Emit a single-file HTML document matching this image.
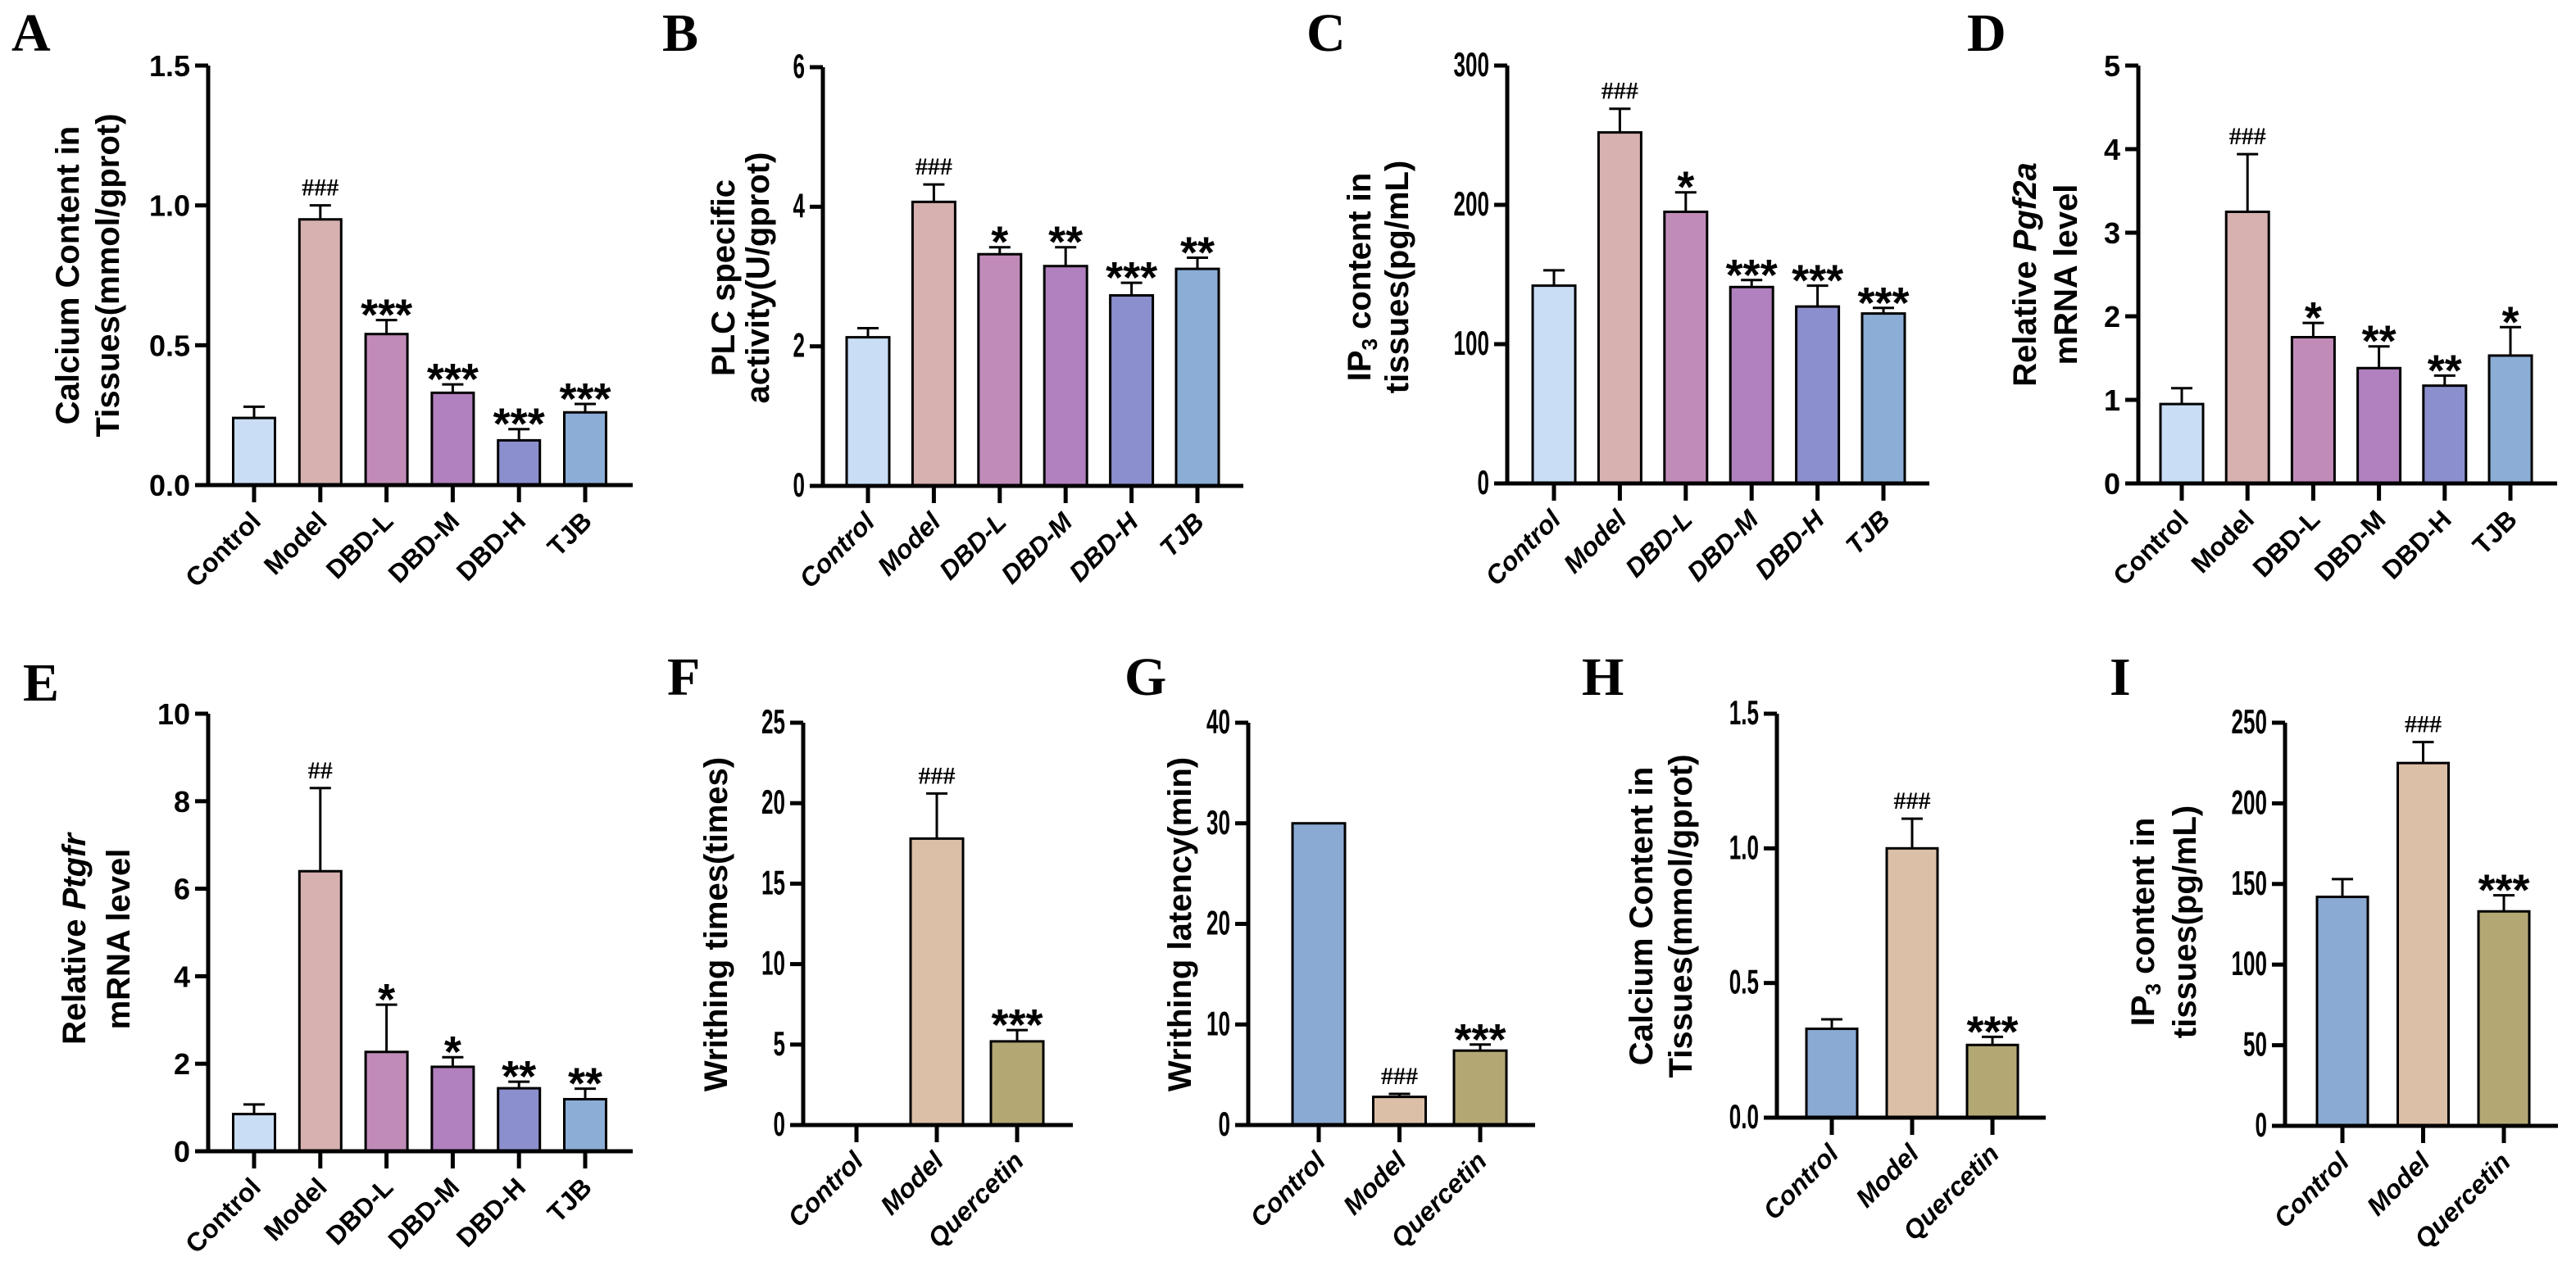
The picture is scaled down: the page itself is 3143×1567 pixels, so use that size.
<!DOCTYPE html>
<html><head><meta charset="utf-8"><style>
html,body{margin:0;padding:0;background:#fff;}
svg{display:block;font-family:"Liberation Sans",Arial,sans-serif;}
</style></head><body>
<svg id="fig" width="3143" height="1567" viewBox="0 0 3143 1567" xmlns="http://www.w3.org/2000/svg"></svg>
<script>
// ---- data ----
const catsSix = ["Control","Model","DBD-L","DBD-M","DBD-H","TJB"];
const catsThree = ["Control","Model","Quercetin"];
const colorsSix = ["#c9ddf5","#d6b1b0","#c18bb8","#b180be","#8b8fcd","#8badd6"];
const colorsThree = ["#8aaad3","#dbbfa7","#b3a874"];

const aValues = [0.24,0.95,0.54,0.33,0.16,0.26];
const aErrors = [0.04,0.05,0.05,0.03,0.04,0.03];
const aSig = ["","###","***","***","***","***"];
const aTicks = [0,0.5,1.0,1.5];
const aTickLabels = ["0.0","0.5","1.0","1.5"];

const bValues = [2.13,4.07,3.32,3.15,2.73,3.11];
const bErrors = [0.13,0.25,0.1,0.27,0.18,0.16];
const bSig = ["","###","*","**","***","**"];
const bTicks = [0,2,4,6];
const bTickLabels = ["0","2","4","6"];

const cValues = [142,252,195,141,127,122];
const cErrors = [11,17,14,5,15,4];
const cSig = ["","###","*","***","***","***"];
const cTicks = [0,100,200,300];
const cTickLabels = ["0","100","200","300"];

const dValues = [0.95,3.25,1.75,1.38,1.17,1.53];
const dErrors = [0.19,0.69,0.17,0.26,0.12,0.34];
const dSig = ["","###","*","**","**","*"];
const dTicks = [0,1,2,3,4,5];
const dTickLabels = ["0","1","2","3","4","5"];

const eValues = [0.85,6.4,2.27,1.93,1.44,1.19];
const eErrors = [0.22,1.9,1.08,0.22,0.15,0.24];
const eSig = ["","##","*","*","**","**"];
const eTicks = [0,2,4,6,8,10];
const eTickLabels = ["0","2","4","6","8","10"];

const fValues = [0,17.8,5.2];
const fErrors = [0,2.8,0.7];
const fSig = ["","###","***"];
const fTicks = [0,5,10,15,20,25];
const fTickLabels = ["0","5","10","15","20","25"];

const gValues = [30,2.8,7.4];
const gErrors = [0,0.3,0.6];
const gSig = ["","###","***"];
const gTicks = [0,10,20,30,40];
const gTickLabels = ["0","10","20","30","40"];

const hValues = [0.33,1.0,0.27];
const hErrors = [0.035,0.11,0.03];
const hSig = ["","###","***"];
const hTicks = [0,0.5,1.0,1.5];
const hTickLabels = ["0.0","0.5","1.0","1.5"];

const iValues = [142,225,133];
const iErrors = [11,13,10];
const iSig = ["","###","***"];
const iTicks = [0,50,100,150,200,250];
const iTickLabels = ["0","50","100","150","200","250"];

const NS = "http://www.w3.org/2000/svg";
const svg = document.getElementById("fig");
function mk(tag, attrs, parent){
  const e = document.createElementNS(NS, tag);
  for (const k in attrs) e.setAttribute(k, attrs[k]);
  (parent||svg).appendChild(e);
  return e;
}

function drawPanel(p){
  const g = mk("g", {});
  
  
  const L = mk("text", {x:p.lx, y:p.ly, "font-family":"Liberation Serif, serif", "font-weight":"bold", "font-size":66}, g);
  L.textContent = p.id.toUpperCase();
  
  
  const ymax = p.ticks[p.ticks.length-1];
  const Y = v => p.y0 - (v/ymax)*(p.y0 - p.yTop);
  const X = i => p.c0 + i*p.step;
  p.values.forEach((v,i)=>{
    if (v > 0) {
      const r = mk("rect", {x:X(i)-p.bw/2, y:Y(v), width:p.bw, height:p.y0-Y(v), fill:p.colors[i], stroke:"#000", "stroke-width":3}, g);
      
      
    }
    const err = p.errors[i];
    if (err > 0) {
      const eb = mk("path", {d:`M${X(i)} ${Y(v)} V${Y(v+err)} M${X(i)-13} ${Y(v+err)} H${X(i)+13}`, stroke:"#000", "stroke-width":3, fill:"none"}, g);
      
      
    }
    if (p.sig[i]) {
      const isHash = p.sig[i][0] === "#";
      const s = mk("text", {x:X(i), y:Y(v+err) - (isHash ? 12 : -12), "text-anchor":"middle", "font-weight":"bold",
        "font-family": isHash ? "Liberation Serif, serif" : "Liberation Sans, sans-serif", "font-size": isHash ? 30 : 54}, g);
      s.textContent = p.sig[i];
      
      
    }
  });
  const ax = mk("path", {d:`M${p.ax} ${p.yTop} V${p.y0} H${p.xEnd}`, stroke:"#000", "stroke-width":5, fill:"none"}, g);
  
  
  p.ticks.forEach((t,k)=>{
    const tk = mk("line", {x1:p.ax-16, x2:p.ax, y1:Y(t), y2:Y(t), stroke:"#000", "stroke-width":5}, g);
    
    
    const sx = p.condensed ? 0.62 : 1;
    const tl = mk("text", {transform:`translate(${p.ax-22},${Y(t)+13}) scale(${sx},1)`, "text-anchor":"end", "font-weight":"bold", "font-size": p.condensed ? 42 : 36}, g);
    tl.textContent = p.tickLabels[k];
    
    
  });
  p.cats.forEach((c,i)=>{
    const tk = mk("line", {x1:X(i), x2:X(i), y1:p.y0, y2:p.y0+21, stroke:"#000", "stroke-width":5}, g);
    
    
    const cl = mk("text", {transform:`translate(${X(i)+10},${p.y0+46}) rotate(-45)`, "text-anchor":"end", "font-weight":"bold", "font-size":32, "font-style": p.italic ? "italic" : "normal"}, g);
    cl.textContent = c;
    
    
  });
  p.title.forEach((line, k)=>{
    const t = mk("text", {transform:`translate(${p.tx[k]},${p.ty}) rotate(-90)`, "text-anchor":"middle", "font-weight":"bold", "font-size":40}, g);
    t.innerHTML = line;
    
    
  });
}

const IP3 = 'IP<tspan font-size="26" dy="8">3</tspan><tspan dy="-8"> content in</tspan>';
drawPanel({id:"a", lx:14, ly:62, ax:254, yTop:80, y0:592, xEnd:772, c0:310, step:80.8, bw:51,
  values:aValues, errors:aErrors, sig:aSig, ticks:aTicks, tickLabels:aTickLabels, cats:catsSix, colors:colorsSix,
  title:["Calcium Content in","Tissues(mmol/gprot)"], tx:[96,145], ty:336});
drawPanel({id:"b", lx:808, ly:62, ax:1004, yTop:82, y0:593, xEnd:1517, c0:1059, step:80.4, bw:52, condensed:true, italic:true,
  values:bValues, errors:bErrors, sig:bSig, ticks:bTicks, tickLabels:bTickLabels, cats:catsSix, colors:colorsSix,
  title:["PLC specific","activity(U/gprot)"], tx:[896,938], ty:339});
drawPanel({id:"c", lx:1594, ly:62, ax:1839, yTop:80, y0:590, xEnd:2354, c0:1896, step:80.4, bw:52, condensed:true, italic:true,
  values:cValues, errors:cErrors, sig:cSig, ticks:cTicks, tickLabels:cTickLabels, cats:catsSix, colors:colorsSix,
  title:[IP3,"tissues(pg/mL)"], tx:[1672,1718], ty:338});
drawPanel({id:"d", lx:2400, ly:62, ax:2609, yTop:80, y0:590, xEnd:3120, c0:2662, step:80.2, bw:52,
  values:dValues, errors:dErrors, sig:dSig, ticks:dTicks, tickLabels:dTickLabels, cats:catsSix, colors:colorsSix,
  title:['Relative <tspan font-style="italic">Pgf2a</tspan>','mRNA level'], tx:[2484,2534], ty:335});
drawPanel({id:"e", lx:28, ly:855, ax:254, yTop:871, y0:1405, xEnd:772, c0:310, step:80.8, bw:51,
  values:eValues, errors:eErrors, sig:eSig, ticks:eTicks, tickLabels:eTickLabels, cats:catsSix, colors:colorsSix,
  title:['Relative <tspan font-style="italic">Ptgfr</tspan>','mRNA level'], tx:[104,158], ty:1146});
drawPanel({id:"f", lx:814, ly:848, ax:980, yTop:882, y0:1373, xEnd:1309, c0:1045, step:98, bw:64, condensed:true, italic:true,
  values:fValues, errors:fErrors, sig:fSig, ticks:fTicks, tickLabels:fTickLabels, cats:catsThree, colors:colorsThree,
  title:["Writhing times(times)"], tx:[887], ty:1128});
drawPanel({id:"g", lx:1372, ly:848, ax:1523, yTop:882, y0:1373, xEnd:1873, c0:1609, step:98.5, bw:64, condensed:true, italic:true,
  values:gValues, errors:gErrors, sig:gSig, ticks:gTicks, tickLabels:gTickLabels, cats:catsThree, colors:colorsThree,
  title:["Writhing latency(min)"], tx:[1453], ty:1128});
drawPanel({id:"h", lx:1930, ly:848, ax:2168, yTop:871, y0:1364, xEnd:2496, c0:2235, step:98, bw:62, condensed:true, italic:true,
  values:hValues, errors:hErrors, sig:hSig, ticks:hTicks, tickLabels:hTickLabels, cats:catsThree, colors:colorsThree,
  title:["Calcium Content in","Tissues(mmol/gprot)"], tx:[2016,2064], ty:1118});
drawPanel({id:"i", lx:2574, ly:848, ax:2788, yTop:882, y0:1374, xEnd:3121, c0:2858, step:98.5, bw:62, condensed:true, italic:true,
  values:iValues, errors:iErrors, sig:iSig, ticks:iTicks, tickLabels:iTickLabels, cats:catsThree, colors:colorsThree,
  title:[IP3,"tissues(pg/mL)"], tx:[2628,2679], ty:1125});
</script>
</body></html>
